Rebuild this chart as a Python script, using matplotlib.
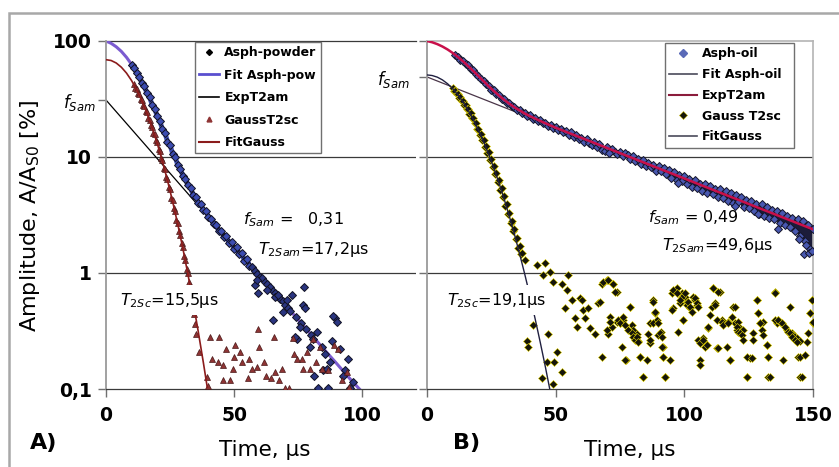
import numpy as np
import matplotlib
matplotlib.use("Agg")
import matplotlib.pyplot as plt
from matplotlib.patches import Rectangle
from matplotlib.lines import Line2D

plt.rcParams["font.family"] = "DejaVu Sans"
plt.rcParams["mathtext.fontset"] = "dejavusans"

# ---------------- panel A: asphaltene powder ----------------
f_sam_a = 31
powder_t = np.arange(10, 57, 1.0)
powder_v = [61.5, 58.6, 52.8, 49.3, 43.5, 40.6, 35.4, 32.8, 28.3, 26.1,
            22.4, 20.5, 17.4, 16.1, 13.6, 12.7, 10.7, 9.95, 8.55, 7.95,
            6.9, 6.45, 5.7, 5.38, 4.75, 4.55, 4.05, 3.9, 3.5, 3.4,
            3.05, 2.95, 2.62, 2.6, 2.3, 2.32, 2.05, 2.08, 1.82, 1.85,
            1.62, 1.66, 1.45, 1.48, 1.28, 1.33, 1.15]
powder_tail_t = [57, 58, 59, 60, 61, 62, 63, 64, 65, 66, 67, 68, 69, 70, 71, 72, 74, 76, 78, 80,
                 58.2, 59.4, 59.0, 62.9, 65.2, 66.0, 67.2, 69.1, 70.7, 77.3,
                 77.0, 77.7, 75.8, 79.7, 80.9, 82.4, 84.4, 84.8, 86.3, 88.3,
                 89.5, 90.2, 91.4, 94.5, 93.4, 95.3, 82.8, 86.8, 81.0, 74.6,
                 73.8, 72.5, 85.5, 87.5, 92.5, 96.5, 88.7]
powder_tail_v = [1.12, 1.05, 0.98, 0.93, 0.9, 0.84, 0.8, 0.75, 0.7, 0.67,
                 0.63, 0.6, 0.57, 0.53, 0.5, 0.47, 0.42, 0.37, 0.33, 0.29,
                 0.79, 0.67, 0.87, 0.71, 0.39, 0.62, 0.64, 0.46, 0.58, 0.75,
                 0.53, 0.5, 0.34, 0.23, 0.27, 0.31, 0.23, 0.146, 0.15, 0.26,
                 0.41, 0.38, 0.22, 0.18, 0.146, 0.103, 0.101, 0.101, 0.13, 0.27,
                 0.28, 0.65, 0.2, 0.17, 0.13, 0.115, 0.43]

gauss_a_t = np.arange(11, 33.01, 0.5)
gauss_a_v = [42.5, 39.2, 38.4, 35.4, 34.6, 31.8, 30.9, 28.1, 27.4, 24.9,
             24.2, 21.7, 21.0, 18.9, 18.3, 16.2, 15.8, 13.9, 13.4, 11.7,
             11.3, 9.85, 9.45, 8.1, 7.85, 6.7, 6.45, 5.5, 5.25, 4.45,
             4.25, 3.6, 3.4, 2.88, 2.7, 2.28, 2.13, 1.8, 1.67, 1.4,
             1.29, 1.08, 1.0, 0.83, 0.76]
gauss_a_tail_t = [34.5, 34.8, 35.2, 36.2, 39.5, 39.9]
gauss_a_tail_v = [0.44, 0.36, 0.30, 0.21, 0.128, 0.106]
gauss_a_noise_t = [40.6, 44.3, 41.5, 43.8, 45.5, 45.8, 48.5, 50.4, 50.0, 52.3,
                   53.0, 49.5, 55.5, 57.0, 59.0, 59.3, 59.8, 62.5, 64.5, 65.6,
                   68.8, 66.0, 69.9, 73.0, 73.2, 74.5, 76.5, 77.0, 78.5, 79.8,
                   80.9, 83.5, 84.5, 86.5, 88.8, 90.5, 92.0, 95.0, 71.5, 56.0,
                   47.0, 61.5, 67.5, 82.0, 94.0]
gauss_a_noise_v = [0.28, 0.28, 0.18, 0.17, 0.16, 0.12, 0.12, 0.24, 0.19, 0.21,
                   0.17, 0.15, 0.125, 0.15, 0.155, 0.33, 0.23, 0.13, 0.125, 0.28,
                   0.15, 0.14, 0.103, 0.275, 0.20, 0.18, 0.18, 0.15, 0.21, 0.15,
                   0.27, 0.23, 0.15, 0.145, 0.24, 0.22, 0.12, 0.105, 0.102, 0.18,
                   0.22, 0.17, 0.12, 0.17, 0.14]

fit_a_t = [0, 2, 4, 6, 8, 10, 12, 14, 16, 18, 20, 22, 24, 26, 28, 30, 32, 34, 36, 38, 40,
           45, 50, 55, 60, 65, 70, 75, 80, 85, 90, 95, 99]
fit_a_v = [100, 95.5, 89.1, 81.3, 72.3, 62.8, 53.3, 44.2, 36.0, 28.8, 22.8, 17.8, 13.95,
           10.98, 8.73, 7.05, 5.79, 4.85, 4.13, 3.57, 3.12,
           2.27, 1.69, 1.27, 0.947, 0.708, 0.529, 0.396, 0.296, 0.221, 0.166, 0.124, 0.0995]
exp_a_t = [0, 20, 40, 60, 80, 99]
exp_a_v = [31, 9.69, 3.03, 0.947, 0.296, 0.0995]
fitg_a_t = [0, 2, 4, 6, 8, 10, 12, 14, 16, 18, 20, 22, 24, 26, 28, 30, 32, 34, 36, 38, 39.5]
fitg_a_v = [69, 67.9, 64.6, 59.4, 52.9, 45.5, 37.9, 30.5, 23.8, 17.9, 13.1, 9.2, 6.27,
            4.14, 2.64, 1.63, 0.97, 0.561, 0.313, 0.169, 0.104]

# ---------------- panel B: asphaltene in oil ----------------
f_sam_b = 49
oil_t = np.arange(11, 151, 1.0)
oil_v = [75.0, 73.5, 69.0, 67.5, 63.0, 61.5, 57.2, 55.8, 51.9, 50.4,
         46.6, 45.6, 42.2, 41.2, 38.1, 37.6, 34.8, 34.3, 31.9, 31.6,
         29.4, 29.2, 27.3, 27.2, 25.5, 25.6, 24.0, 24.0, 22.6, 22.8,
         21.4, 21.6, 20.4, 20.7, 19.6, 19.7, 18.6, 18.9, 17.8, 18.1,
         17.0, 17.4, 16.3, 16.6, 15.6, 16.3, 15.0, 15.4, 14.3, 14.7,
         13.6, 14.3, 13.2, 12.6, 13.4, 12.3, 12.9, 11.6, 11.3, 12.2,
         11.1, 11.8, 11.0, 10.6, 11.1, 10.2, 10.9, 10.4, 9.6, 10.1,
         9.3, 9.7, 8.7, 9.4, 8.4, 8.9, 8.2, 8.6, 7.6, 8.3,
         7.5, 8.1, 7.1, 7.7, 6.6, 7.4, 6.3, 7.0, 6.2, 6.8,
         5.9, 6.5, 5.5, 6.3, 5.4, 5.9, 5.1, 5.8, 4.9, 5.6,
         4.8, 5.3, 4.5, 5.3, 4.4, 5.1, 4.2, 4.9, 4.0, 4.7,
         4.1, 4.5, 3.7, 4.3, 3.6, 4.2, 3.4, 3.9, 3.2, 3.9,
         3.1, 3.7, 3.0, 3.5, 2.9, 3.4, 2.7, 3.3, 2.6, 3.1,
         2.5, 3.0, 2.3, 2.9, 2.1, 2.8, 1.9, 2.6, 1.6, 2.4]
oil_extra_t = [144.5, 146.5, 147.2, 148.3, 149.6, 136.5, 128.5, 119.5, 97.5, 70.8]
oil_extra_v = [1.95, 1.45, 1.75, 1.5, 1.55, 2.4, 3.2, 3.8, 6.0, 10.8]

gauss_b_t = np.arange(10, 37.01, 0.5)
gauss_b_v = [39.5, 37.0, 37.2, 35.0, 34.8, 32.4, 32.6, 30.2, 30.3, 28.0,
             28.1, 25.8, 25.9, 23.7, 23.8, 21.5, 21.5, 19.5, 19.6, 17.6,
             17.5, 15.6, 15.7, 13.9, 14.0, 12.3, 12.5, 10.9, 11.0, 9.5,
             9.6, 8.2, 8.4, 7.1, 7.3, 6.1, 6.3, 5.2, 5.4, 4.5,
             4.6, 3.8, 3.9, 3.2, 3.3, 2.7, 2.8, 2.3, 2.4, 1.95,
             2.0, 1.65, 1.7, 1.45, 1.5]
gauss_b_noise_t = [38.1, 42.6, 45.9, 45.2, 47.8, 49.1, 52.3, 54.9, 54.3, 53.6,
                   56.5, 57.5, 58.2, 59.5, 60.1, 60.8, 61.4, 62.7, 63.3, 65.3,
                   66.6, 67.2, 67.9, 69.8, 71.1, 71.8, 70.5, 72.4, 73.7, 73.7,
                   75.0, 76.3, 77.3, 78.9, 79.5, 80.2, 81.5, 82.1, 82.8, 84.1,
                   86.0, 86.7, 87.7, 88.6, 89.2, 89.9, 90.8, 91.8, 92.5, 91.8,
                   95.1, 95.7, 96.4, 97.0, 98.3, 99.0, 99.6, 100.3, 100.9, 102.2,
                   103.5, 104.1, 104.8, 106.1, 106.7, 107.4, 108.0, 108.7, 109.3, 110.6,
                   111.3, 111.9, 112.6, 113.9, 114.5, 115.2, 117.1, 117.7, 118.4, 119.0,
                   119.7, 120.3, 121.0, 121.6, 122.9, 124.2, 125.5, 126.8, 128.1, 128.8,
                   129.4, 130.7, 132.0, 132.6, 132.6, 135.2, 135.9, 136.5, 137.2, 138.5,
                   139.8, 141.1, 141.7, 142.4, 143.7, 144.3, 145.0, 145.0, 147.5, 148.8,
                   149.5, 149.9, 38.9, 39.2, 44.7, 49.0, 46.5, 49.5, 52.3, 47.0,
                   50.5, 41.2]
gauss_b_noise_v = [1.29, 1.17, 1.23, 0.96, 1.03, 0.84, 0.81, 0.96, 0.71, 0.50,
                   0.58, 0.41, 0.345, 0.605, 0.58, 0.48, 0.41, 0.50, 0.334, 0.30,
                   0.548, 0.566, 0.81, 0.87, 0.42, 0.345, 0.30, 0.81, 0.69, 0.38,
                   0.368, 0.39, 0.178, 0.513, 0.356, 0.32, 0.30, 0.26, 0.19, 0.128,
                   0.30, 0.248, 0.58, 0.45, 0.39, 0.292, 0.312, 0.23, 0.128, 0.19,
                   0.67, 0.497, 0.71, 0.74, 0.548, 0.67, 0.39, 0.625, 0.566, 0.497,
                   0.625, 0.58, 0.53, 0.178, 0.26, 0.274, 0.248, 0.24, 0.334, 0.513,
                   0.74, 0.548, 0.224, 0.69, 0.39, 0.368, 0.38, 0.178, 0.42, 0.513,
                   0.368, 0.32, 0.38, 0.334, 0.32, 0.128, 0.184, 0.302, 0.58, 0.45,
                   0.368, 0.38, 0.24, 0.19, 0.128, 0.69, 0.368, 0.39, 0.38, 0.178,
                   0.32, 0.513, 0.302, 0.292, 0.274, 0.19, 0.128, 0.26, 0.256, 0.45,
                   0.58, 0.368, 0.26, 0.23, 0.125, 0.11, 0.17, 0.17, 0.14, 0.30,
                   0.21, 0.356]
gauss_b_noise2_t = [68.5, 70.5, 72.4, 73.1, 67.9, 71.1, 69.8, 74.4, 75.0, 76.3,
                    76.9, 78.3, 79.5, 80.2, 80.8, 81.5, 82.1, 78.9, 75.7, 76.9,
                    82.8, 85.4, 83.8, 87.9, 88.6, 86.7, 87.9, 89.9, 90.6, 91.2,
                    86.7, 91.2, 92.5, 91.8, 94.4, 97.7, 95.7, 97.0, 98.9, 98.3,
                    100.3, 100.9, 101.6, 102.2, 102.9, 104.1, 104.8, 105.4, 95.1, 99.6,
                    105.4, 106.1, 107.4, 108.0, 106.1, 108.7, 109.3, 110.0, 111.3, 112.0,
                    113.2, 112.6, 113.2, 114.5, 115.2, 116.5, 117.1, 117.8, 119.7, 120.4,
                    121.0, 121.6, 122.3, 122.9, 124.3, 124.3, 126.2, 126.8, 128.1, 128.8,
                    129.4, 130.0, 130.7, 132.0, 132.6, 133.3, 135.2, 135.2, 136.5, 137.8,
                    139.1, 140.4, 141.1, 141.7, 143.0, 143.7, 145.0, 145.6, 146.9, 148.2,
                    148.8, 149.5, 149.9]
gauss_b_noise2_v = [0.84, 0.87, 0.81, 0.69, 0.19, 0.38, 0.323, 0.394, 0.368, 0.42,
                    0.356, 0.323, 0.302, 0.283, 0.265, 0.283, 0.256, 0.513, 0.232, 0.178,
                    0.19, 0.178, 0.128, 0.566, 0.465, 0.368, 0.368, 0.368, 0.302, 0.283,
                    0.265, 0.232, 0.128, 0.19, 0.178, 0.312, 0.71, 0.67, 0.625, 0.585,
                    0.67, 0.53, 0.566, 0.513, 0.465, 0.605, 0.548, 0.513, 0.48, 0.394,
                    0.265, 0.248, 0.265, 0.232, 0.161, 0.24, 0.345, 0.435, 0.74, 0.53,
                    0.69, 0.394, 0.224, 0.38, 0.356, 0.232, 0.368, 0.178, 0.513, 0.345,
                    0.312, 0.302, 0.292, 0.265, 0.19, 0.128, 0.184, 0.265, 0.585, 0.45,
                    0.368, 0.323, 0.292, 0.24, 0.19, 0.128, 0.67, 0.394, 0.394, 0.368,
                    0.345, 0.312, 0.302, 0.283, 0.265, 0.256, 0.19, 0.128, 0.196, 0.302,
                    0.45, 0.585, 0.38]

fit_b_t = [0, 2, 4, 6, 8, 10, 12, 14, 16, 18, 20, 22, 24, 26, 28, 30, 32, 34, 36, 38, 40,
           45, 50, 60, 70, 80, 90, 100, 110, 120, 130, 140, 150]
fit_b_v = [100, 97.5, 94.0, 89.6, 84.5, 78.8, 72.9, 66.8, 60.8, 55.1, 49.8, 45.0, 40.7,
           37.0, 33.8, 31.1, 28.8, 26.8, 25.2, 23.7, 22.5,
           19.98, 17.88, 14.62, 11.95, 9.77, 7.98, 6.53, 5.33, 4.36, 3.56, 2.91, 2.38]
exp_b_t = [0, 50, 100, 150]
exp_b_v = [49, 17.88, 6.53, 2.38]
fitg_b_t = [0, 2, 4, 6, 8, 10, 12, 14, 16, 18, 20, 22, 24, 26, 28, 30, 32, 34, 36, 38,
            40, 42, 44, 46, 47.7]
fitg_b_v = [51, 50.4, 48.8, 46.2, 42.8, 38.8, 34.4, 29.8, 25.3, 21.0, 17.0, 13.5, 10.5,
            7.99, 5.95, 4.33, 3.08, 2.15, 1.46, 0.974, 0.636, 0.405, 0.253, 0.155, 0.1]

# ---------------- figure ----------------
W, H = 839, 467
fig = plt.figure(figsize=(W / 100, H / 100), dpi=100)
fig.add_artist(Rectangle((9 / W, -0.1), 1.2, 1 - 13 / H + 0.1, transform=fig.transFigure,
                         fill=False, ec="#a8a8a8", lw=1.8))


def px_axes(x0, x1, y0, y1):
    return fig.add_axes([x0 / W, 1 - y1 / H, (x1 - x0) / W, (y1 - y0) / H])


def style(ax, xmax, xt, f_sam, fpad):
    ax.set_yscale("log")
    ax.set_ylim(0.1, 100)
    ax.set_xlim(0, xmax)
    ax.set_xticks(xt, labels=[str(x) for x in xt], fontweight="bold", fontsize=13.5)
    ax.set_yticks([0.1, 1, 10, 100], labels=["0,1", "1", "10", "100"],
                  fontweight="bold", fontsize=13.5)
    ax.set_yticks([f_sam], labels=["$f_{Sam}$"], minor=True, fontsize=12)
    for v in (1, 10):
        ax.axhline(v, color="#3a3a3a", lw=0.9, zorder=0.5)
    ax.spines["left"].set_color("#9a9a9a")
    ax.spines["left"].set_linewidth(1.3)
    ax.spines["bottom"].set_color("#3a3a3a")
    ax.spines["bottom"].set_linewidth(0.9)
    ax.tick_params(axis="both", which="both", direction="out", length=6, width=1,
                   color="#707070")
    ax.tick_params(axis="x", pad=6)
    ax.tick_params(axis="y", which="major", pad=4)
    ax.tick_params(axis="y", which="minor", pad=fpad)


leg_kw = dict(loc="upper left", prop=dict(weight="bold", size=9), frameon=True,
              fancybox=False, edgecolor="#707070", framealpha=1, borderpad=0.35,
              handletextpad=0.4, borderaxespad=0)

# panel A
axA = px_axes(106, 416, 41, 389)
style(axA, 121, [0, 50, 100], f_sam_a, 1.5)
axA.spines["top"].set_visible(False)
axA.spines["right"].set_visible(False)
axA.axhline(100, color="#3a3a3a", lw=0.9, clip_on=False, zorder=0.5)

h_fit, = axA.plot(fit_a_t, fit_a_v, color="#7b5bd0", lw=2.2, zorder=2)
h_exp, = axA.plot(exp_a_t, exp_a_v, color="black", lw=0.9, zorder=1.5)
axA.plot(powder_t, powder_v, color="#3c4cb0", lw=3.5, zorder=2.5)
axA.plot(powder_t, powder_v, ls="none", marker="D", ms=3.6, mfc="#3c4cb0",
         mec="#111122", mew=0.7, zorder=3)
axA.plot(powder_tail_t, powder_tail_v, ls="none", marker="D", ms=3.6, mfc="#2a3580",
         mec="#111122", mew=0.7, zorder=3)
tri_kw = dict(ls="none", marker="^", ms=4.8, mfc="#8e3434", mec="#4a1818", mew=0.5, zorder=3)
axA.plot(gauss_a_t, gauss_a_v, **tri_kw)
axA.plot(gauss_a_tail_t, gauss_a_tail_v, **tri_kw)
axA.plot(gauss_a_noise_t, gauss_a_noise_v, **tri_kw)
h_fg, = axA.plot(fitg_a_t, fitg_a_v, color="#8b1c1c", lw=1.2, zorder=4)

hA = [Line2D([], [], ls="none", marker="D", ms=3, color="black"),
      Line2D([], [], color="#5a4fcf", lw=2),
      Line2D([], [], color="black", lw=1.2),
      Line2D([], [], ls="none", marker="^", ms=3.5, color="#8e3434"),
      Line2D([], [], color="#8b1c1c", lw=1.5)]
legA = axA.legend(hA, ["Asph-powder", "Fit Asph-pow", "ExpT2am", "GaussT2sc", "FitGauss"],
                  bbox_to_anchor=((195 - 106) / 310, 1 - 1 / 348),
                  labelspacing=0.75, handlelength=1.6, **leg_kw)
legA.get_frame().set_linewidth(1.0)

axA.text(53.5, 2.87, "$f_{Sam}$ =   0,31", fontsize=11.5, va="center")
axA.text(59.4, 1.58, "$T_{2Sam}$=17,2µs", fontsize=11.5, va="center")
axA.text(5.5, 0.585, "$T_{2Sc}$=15,5µs", fontsize=11.5, va="center", zorder=10,
         bbox=dict(fc="white", ec="none", pad=4))

# panel B
axB = px_axes(427, 813, 41, 389)
style(axB, 150, [0, 50, 100, 150], f_sam_b, 6)
axB.tick_params(axis="y", which="major", labelleft=False)
for side in ("top", "right"):
    axB.spines[side].set_color("#b4b4b4")
    axB.spines[side].set_linewidth(1.2)

axB.plot(oil_t, oil_v, color="#1c1c3a", lw=3.0, zorder=2.5)
axB.plot(oil_t, oil_v, ls="none", marker="D", ms=4.4, mfc="#4858b0",
         mec="#15152a", mew=0.7, zorder=3)
axB.plot(oil_extra_t, oil_extra_v, ls="none", marker="D", ms=4.4, mfc="#4858b0",
         mec="#15152a", mew=0.7, zorder=3)
axB.plot(exp_b_t, exp_b_v, color="#4a3548", lw=0.9, zorder=2)
axB.plot(fit_b_t, fit_b_v, color="#c8104a", lw=1.8, zorder=5)
dia_kw = dict(ls="none", marker="D", ms=4.4, mfc="#15150a", mec="#e8d800", mew=0.4, zorder=3)
axB.plot(gauss_b_t, gauss_b_v, **dia_kw)
axB.plot(gauss_b_noise_t, gauss_b_noise_v, **dia_kw)
axB.plot(gauss_b_noise2_t, gauss_b_noise2_v, **dia_kw)
axB.plot(fitg_b_t, fitg_b_v, color="#202040", lw=1.0, zorder=4)

hB = [Line2D([], [], ls="none", marker="D", ms=4, color="#5a6ab8"),
      Line2D([], [], color="#4a4a5a", lw=1.2),
      Line2D([], [], color="#8b1c3c", lw=1.5),
      Line2D([], [], ls="none", marker="D", ms=4, mfc="#15150a", mec="#c8b800", mew=0.4),
      Line2D([], [], color="#4a4a5a", lw=1.2)]
legB = axB.legend(hB, ["Asph-oil", "Fit Asph-oil", "ExpT2am", "Gauss T2sc", "FitGauss"],
                  bbox_to_anchor=((665 - 427) / 386, 1 - 2 / 348, (794 - 665) / 386, 0.0),
                  mode="expand", labelspacing=0.62, handlelength=2.2, **leg_kw)
legB.get_frame().set_linewidth(1.0)

axB.text(85.9, 2.98, "$f_{Sam}$ = 0,49", fontsize=11.5, va="center")
axB.text(91.3, 1.74, "$T_{2Sam}$=49,6µs", fontsize=11.5, va="center")
axB.text(7.8, 0.585, "$T_{2Sc}$=19,1µs", fontsize=11.5, va="center", zorder=10,
         bbox=dict(fc="white", ec="none", pad=4))

# figure-level labels
fig.text(30 / W, 1 - 216 / H, "Amplitude, A/A$_{\\rm S0}$ [%]", rotation=90,
         ha="center", va="center", fontsize=16)
fig.text(265 / W, 1 - 450 / H, "Time, µs", ha="center", va="center", fontsize=15.5)
fig.text(630 / W, 1 - 450 / H, "Time, µs", ha="center", va="center", fontsize=15.5)
fig.text(30 / W, 1 - 443 / H, "A)", fontsize=16, fontweight="bold", va="center")
fig.text(453 / W, 1 - 443 / H, "B)", fontsize=16, fontweight="bold", va="center")

fig.savefig("out.png", dpi=100)
